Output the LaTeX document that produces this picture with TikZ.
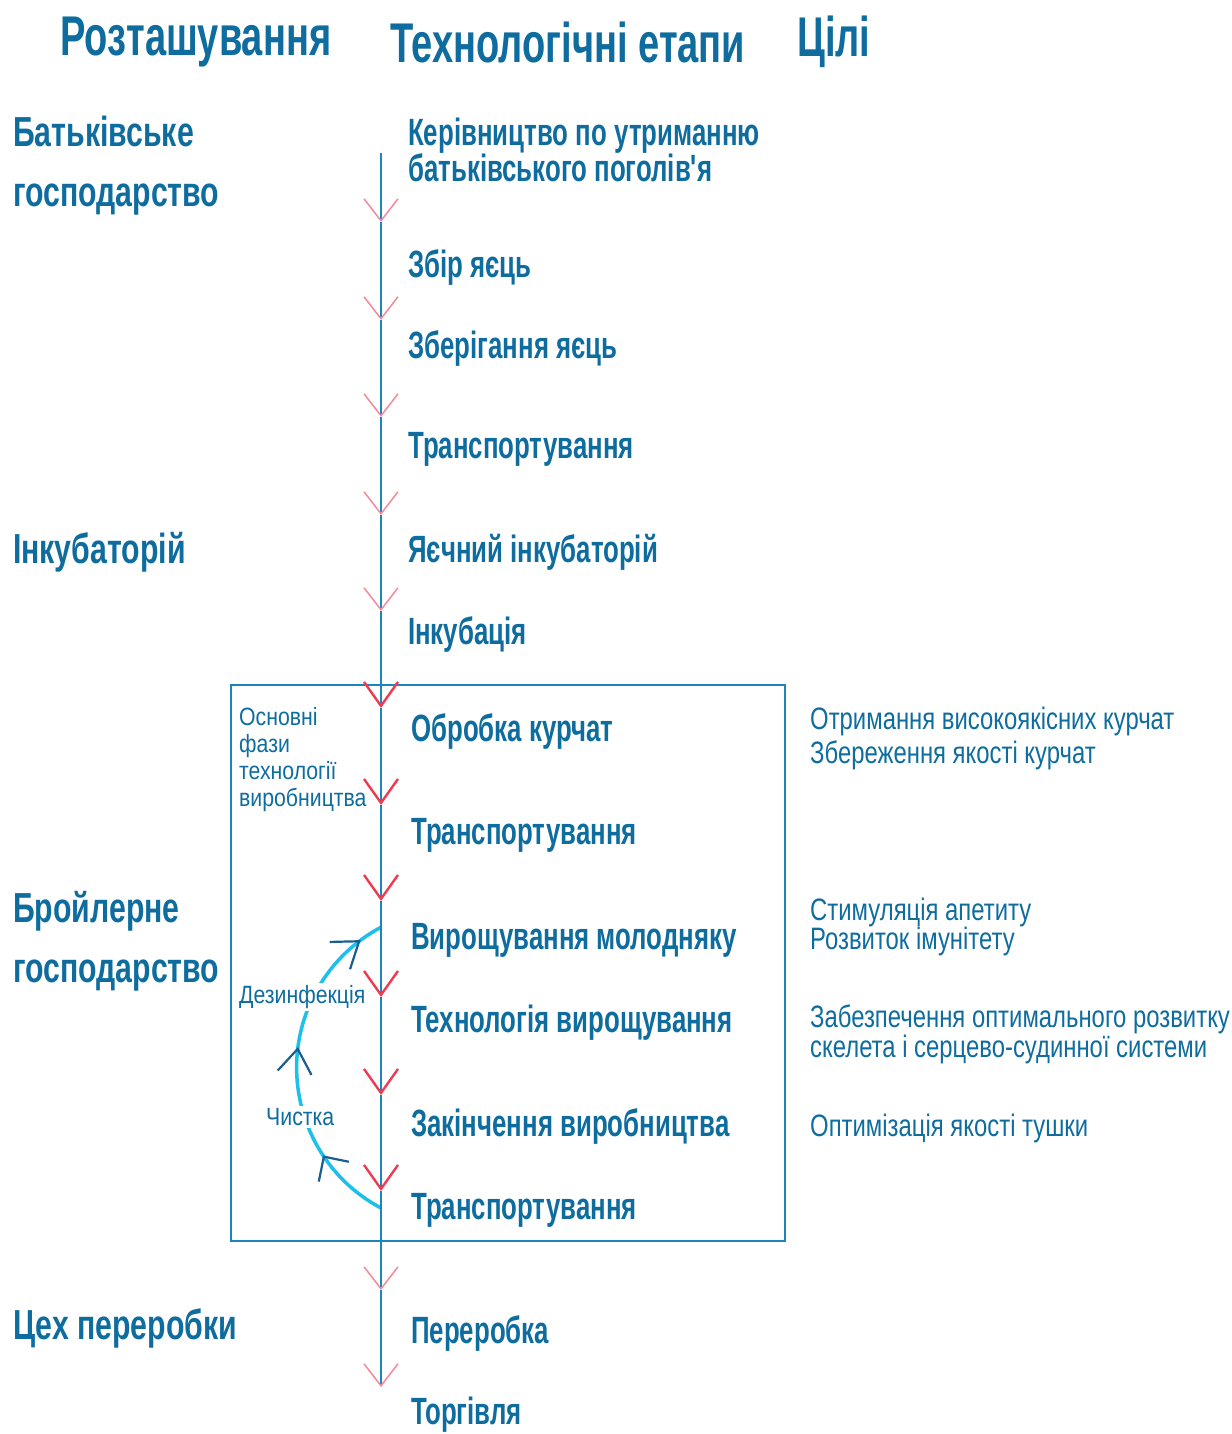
\documentclass[tikz,border=0pt]{standalone}
\usepackage{fontspec}
\setmainfont{Liberation Sans}
\newfontfamily\narrowfont[FakeStretch=0.68]{Liberation Sans}
\newfontfamily\placefont[FakeStretch=0.72]{Liberation Sans}
\newfontfamily\goalfont[FakeStretch=0.77]{Liberation Sans}
\newfontfamily\notefont[FakeStretch=0.85]{Liberation Sans}
\usetikzlibrary{arrows.meta,positioning,decorations.markings}

\definecolor{txtblue}{HTML}{0E6D9E}
\definecolor{axisblue}{HTML}{1C86BC}
\definecolor{pinkred}{HTML}{F5899A}
\definecolor{boxred}{HTML}{F03A52}
\definecolor{loopcyan}{HTML}{1CC0EA}
\definecolor{loopdark}{HTML}{1A5E90}

\begin{document}
\begin{tikzpicture}[x=1pt, y=1pt,
    head/.style={anchor=west, inner sep=0pt, text=txtblue, font=\narrowfont\bfseries\fontsize{56}{60}\selectfont},
    place/.style={anchor=west, inner sep=0pt, align=left, text=txtblue, font=\placefont\bfseries\fontsize{42}{60}\selectfont},
    stage/.style={anchor=west, inner sep=0pt, align=left, text=txtblue, font=\narrowfont\bfseries\fontsize{38}{33}\selectfont},
    goal/.style={anchor=west, inner sep=0pt, align=left, text=txtblue, font=\goalfont\fontsize{31}{28}\selectfont},
    note/.style={anchor=west, inner sep=2pt, align=left, text=txtblue, font=\notefont\fontsize{25}{27}\selectfont},
    axis/.style={draw=axisblue, line width=1.8pt},
    softtip/.style={-{Straight Barb[length=22pt, width=34pt, line width=1.5pt, color=pinkred]}},
    hardtip/.style={-{Straight Barb[length=24pt, width=34pt, line width=2.4pt, color=boxred]}},
    loopline/.style={draw=loopcyan, line width=3.5pt, postaction={decorate}, decoration={markings,
        mark=at position 0.23 with {\arrow[loopdark, line width=2.2pt]{Straight Barb[length=18pt, width=36pt]}},
        mark=at position 0.56 with {\arrow[loopdark, line width=2.2pt]{Straight Barb[length=24pt, width=34pt]}},
        mark=at position 0.93 with {\arrow[loopdark, line width=2.2pt]{Straight Barb[length=24pt, width=34pt]}}}}
]
    \useasboundingbox (0,0) rectangle (1231,-1434);

    % Frame of the main phases
    \node (phasebox) [draw=axisblue, line width=2.4pt, minimum width=554pt, minimum height=556pt, inner sep=0pt] at (508,-963) {};

    % Points on the axis
    \coordinate (top) at (381,-153);
    \coordinate (t1) at (381,-222);
    \coordinate (t2) at (381,-320);
    \coordinate (t3) at (381,-417);
    \coordinate (t4) at (381,-515);
    \coordinate (t5) at (381,-611);
    \coordinate (t6) at (381,-708);
    \coordinate (t7) at (381,-805);
    \coordinate (t8) at (381,-901);
    \coordinate (t9) at (381,-997);
    \coordinate (t10) at (381,-1095);
    \coordinate (t11) at (381,-1191);
    \coordinate (t12) at (381,-1290);
    \coordinate (t13) at (381,-1387);
    \coordinate (loopstart) at (381,-1208);

    % Cleaning loop
    \draw[loopline] (loopstart) arc[start angle=242, end angle=118, radius=159pt];

    % Axis with arrows
    \draw[axis, softtip] (top) -- (t1);
    \draw[axis, softtip] (t1) -- (t2);
    \draw[axis, softtip] (t2) -- (t3);
    \draw[axis, softtip] (t3) -- (t4);
    \draw[axis, softtip] (t4) -- (t5);
    \draw[axis, hardtip] (t5) -- (t6);
    \draw[axis, hardtip] (t6) -- (t7);
    \draw[axis, hardtip] (t7) -- (t8);
    \draw[axis, hardtip] (t8) -- (t9);
    \draw[axis, hardtip] (t9) -- (t10);
    \draw[axis, hardtip] (t10) -- (t11);
    \draw[axis, softtip] (t11) -- (t12);
    \draw[axis, softtip] (t12) -- (t13);

    % Headings
    \node[head] (hplace) at (60,-42) {Розташування};
    \node[head] (hstage) at (390,-42) {Технологічні етапи};
    \node[head] (hgoal) at (797,-42) {Цілі};

    % Locations
    \node[place] (parent) at (13,-166) {Батьківське\\господарство};
    \node[place] (hatchery) at (13,-552) {Інкубаторій};
    \node[place] (broiler) at (13,-941) {Бройлерне\\господарство};
    \node[place] (plant) at (13,-1328) {Цех переробки};

    % Stages
    \node[stage] (s1) at (408,-150) {Керівництво по утриманню\\батьківського поголів'я};
    \node[stage] (s2) at (408,-268) {Збір яєць};
    \node[stage] (s3) at (408,-349) {Зберігання яєць};
    \node[stage] (s4) at (408,-449) {Транспортування};
    \node[stage] (s5) at (408,-552) {Яєчний інкубаторій};
    \node[stage] (s6) at (408,-635) {Інкубація};
    \node[stage] (s7) at (411,-732) {Обробка курчат};
    \node[stage] (s8) at (411,-835) {Транспортування};
    \node[stage] (s9) at (411,-940) {Вирощування молодняку};
    \node[stage] (s10) at (411,-1023) {Технологія вирощування};
    \node[stage] (s11) at (411,-1126) {Закінчення виробництва};
    \node[stage] (s12) at (411,-1210) {Транспортування};
    \node[stage] (s13) at (411,-1333) {Переробка};
    \node[stage] (s14) at (411,-1415) {Торгівля};

    % Goals
    \node[goal, font=\goalfont\fontsize{31}{34}\selectfont] (g1) at (810,-738) {Отримання високоякісних курчат\\Збереження якості курчат};
    \node[goal] (g2) at (810,-927) {Стимуляція апетиту\\Розвиток імунітету};
    \node[goal] (g3) at (810,-1034) {Забезпечення оптимального розвитку\\скелета і серцево-судинної системи};
    \node[goal] (g4) at (810,-1128) {Оптимізація якості тушки};

    % Notes inside the frame
    \node[note] (phases) at (237,-760) {Основні\\фази\\технології\\виробництва};
    \node[note, fill=white] (disinf) at (237,-997) {Дезинфекція};
    \node[note, fill=white] (clean) at (264,-1117) {Чистка};
\end{tikzpicture}
\end{document}
